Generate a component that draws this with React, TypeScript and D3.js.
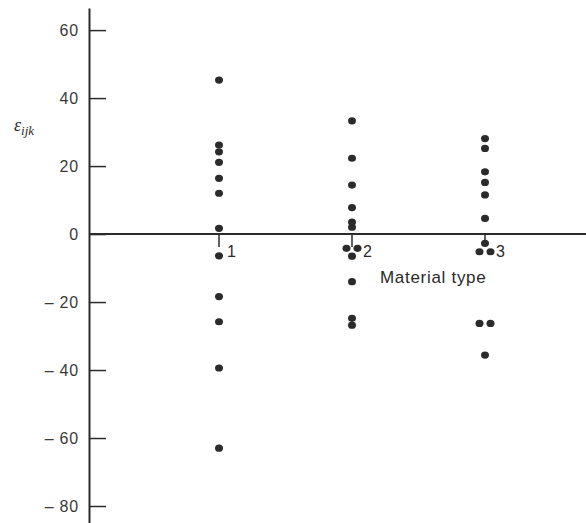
import React, { useRef, useEffect } from 'react'
import { select, scaleLinear, axisLeft } from 'd3'

// residuals, per material type
const materials = [1, 2, 3]
const material1Residuals = [45.3, 26.2, 24.2, 21.1, 16.4, 12, 1.7, -6.4, -18.4, -25.8, -39.4, -63]
const material2Residuals = [33.3, 22.3, 14.4, 7.8, 3.5, 2, -4.2, -4.2, -6.5, -14, -24.8, -26.8]
const material3Residuals = [28.1, 25.2, 18.3, 15.2, 11.5, 4.6, -2.7, -5.2, -5.2, -26.3, -26.3, -35.6]
// side-by-side placement of overlapping points (-1 left, 0 centre, 1 right)
const material1Sides = [0, 0, 0, 0, 0, 0, 0, 0, 0, 0, 0, 0]
const material2Sides = [0, 0, 0, 0, 0, 0, -1, 1, 0, 0, 0, 0]
const material3Sides = [0, 0, 0, 0, 0, 0, 0, -1, 1, -1, 1, 0]
const yTicks = [60, 40, 20, 0, -20, -40, -60, -80]

const width = 586
const height = 523
const ink = '#2b2b2b'
const sans = 'Liberation Sans, Arial, sans-serif'

const App = () => {
    const svgRef = useRef(null)

    useEffect(() => {
        const svg = select(svgRef.current)
        svg.selectAll('*').remove()

        const axisX = 89
        const xScale = scaleLinear().domain([1, 3]).range([219, 485])
        const yScale = scaleLinear().domain([-85, 66.5]).range([523, 8])

        // y axis, ticks pointing right, labels on the left
        const yAxis = axisLeft(yScale)
            .tickValues(yTicks)
            .tickSizeInner(-17)
            .tickSizeOuter(0)
            .tickPadding(10)
            .tickFormat(d => (d < 0 ? `– ${-d}` : `${d}`))
        const gy = svg.append('g').attr('transform', `translate(${axisX},0)`).call(yAxis)
        gy.select('.domain').attr('stroke', ink).attr('stroke-width', 2)
        gy.selectAll('.tick line').attr('stroke', ink).attr('stroke-width', 1.5)
        gy.selectAll('.tick text')
            .attr('fill', '#3a3a3a')
            .attr('font-size', 16)
            .attr('letter-spacing', 0.8)
            .attr('font-family', sans)

        // zero line
        svg.append('line')
            .attr('x1', axisX).attr('x2', width)
            .attr('y1', yScale(0)).attr('y2', yScale(0))
            .attr('stroke', ink).attr('stroke-width', 2)

        // material ticks and labels
        const mat = svg.selectAll('.mat').data(materials).join('g').attr('class', 'mat')
        mat.append('line')
            .attr('x1', d => xScale(d)).attr('x2', d => xScale(d))
            .attr('y1', yScale(0)).attr('y2', yScale(0) + 13)
            .attr('stroke', ink).attr('stroke-width', 1.5)
        mat.append('text')
            .attr('x', d => xScale(d) + (d === 1 ? 8 : 11))
            .attr('y', yScale(0) + 23)
            .attr('font-size', 16)
            .attr('font-family', sans)
            .attr('fill', '#2a2a2a')
            .text(d => d)

        // points
        const residuals = [material1Residuals, material2Residuals, material3Residuals]
        const sides = [material1Sides, material2Sides, material3Sides]
        const points = materials.flatMap((m, i) =>
            residuals[i].map((v, j) => ({ m, v, side: sides[i][j] })))
        svg.selectAll('.pt').data(points).join('ellipse')
            .attr('class', 'pt')
            .attr('cx', d => xScale(d.m) + d.side * 5.5)
            .attr('cy', d => yScale(d.v))
            .attr('rx', 4)
            .attr('ry', 3.6)
            .attr('fill', ink)

        // axis titles
        svg.append('text')
            .attr('x', xScale(2) + 28)
            .attr('y', yScale(0) + 49)
            .attr('font-size', 17)
            .attr('letter-spacing', 0.7)
            .attr('font-family', sans)
            .attr('fill', '#2a2a2a')
            .text('Material type')

        const yl = svg.append('text')
            .attr('x', 14)
            .attr('y', 131)
            .attr('font-family', 'Liberation Serif, Times New Roman, serif')
            .attr('font-style', 'italic')
            .attr('fill', '#2a2a2a')
        yl.append('tspan').attr('font-size', 18).text('ε')
        yl.append('tspan').attr('font-size', 13).attr('dy', 4).text('ijk')
    }, [])

    return (
        <svg ref={svgRef} width={width} height={height}
            style={{ position: 'absolute', left: 0, top: 0, background: '#fff' }} />
    )
}

export default App
